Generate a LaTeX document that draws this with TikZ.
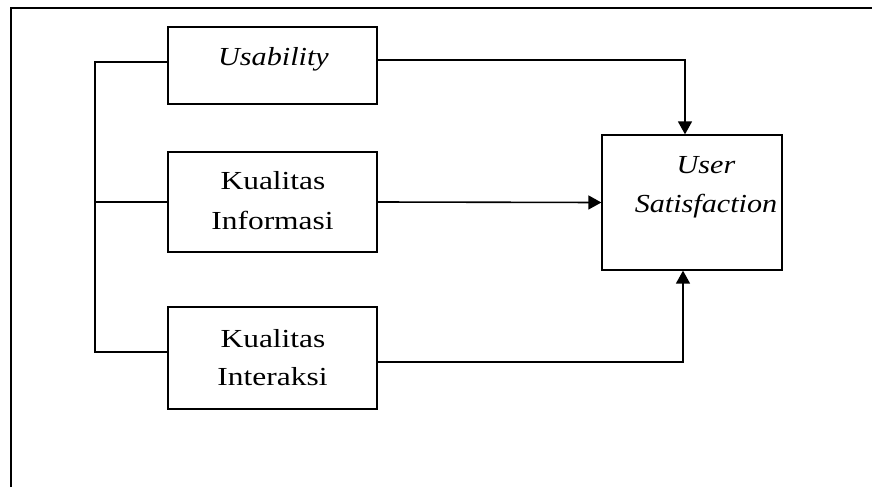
\documentclass[tikz,border=0pt]{standalone}
\usepackage{fontspec}
\setmainfont{Liberation Serif}[FakeStretch=1.21,ItalicFeatures={FakeStretch=1.16}]
\usetikzlibrary{arrows.meta}
\begin{document}
\begin{tikzpicture}[x=1pt,y=-1pt,
  box/.style={draw,line width=1.3pt,rectangle,minimum width=209pt,inner sep=0pt},
  lnk/.style={line width=1.3pt},
  arr/.style={line width=1.6pt,-{Triangle[length=13pt,width=14pt]}},
  txt/.style={anchor=base,inner sep=0pt,font=\fontsize{26}{40}\selectfont}]
\useasboundingbox (0,0) rectangle (872,487);
\draw[line width=1.3pt] (11,487) -- (11,8) -- (872,8);
\node[box,minimum height=77pt] (usab) at (272.5,65.5) {};
\node[box,minimum height=100pt] (info) at (272.5,202) {};
\node[box,minimum height=102pt] (inter) at (272.5,358) {};
\node[draw,line width=1.3pt,rectangle,minimum width=180pt,minimum height=135pt,inner sep=0pt] (us) at (692,202.5) {};
\node[txt] (t1) at (273.5,65) {\itshape Usability};
\node[txt] (t2) at (273,189) {Kualitas};
\node[txt] (t3) at (272.5,229.5) {Informasi};
\node[txt] (t4) at (273,347) {Kualitas};
\node[txt] (t5) at (272.5,385) {Interaksi};
\node[txt] (t6) at (706,173) {\itshape User};
\node[txt] (t7) at (706,212) {\itshape Satisfaction};
\coordinate (bt) at (95,62);
\coordinate (bb) at (95,352);
\coordinate (c1) at (685,60);
\coordinate (c3) at (683,362);
\draw[lnk] (usab.west|-bt) -- (bt) -- (bb) -- (inter.west|-bb);
\draw[lnk] (info.west) -- (bt|-info.west);
\draw[arr] (usab.east|-c1) -- (c1) -- (c1|-us.north);
\draw[arr] (info.east) -- (us.west);
\draw[arr] (inter.east|-c3) -- (c3) -- (c3|-us.south);
\end{tikzpicture}
\end{document}
